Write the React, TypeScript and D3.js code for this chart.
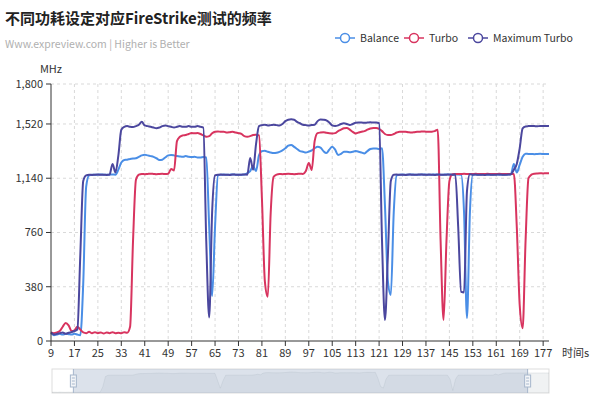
import * as d3 from "d3";
import { useEffect, useRef } from "react";

// test time in seconds, one sample per second
const times = d3.range(9, 180);
const xTickLabels = [9, 17, 25, 33, 41, 49, 57, 65, 73, 81, 89, 97, 105, 113, 121, 129, 137, 145, 153, 161, 169, 177];
const yTicks = [0, 380, 760, 1140, 1520, 1800];
const seriesNames = ["Balance", "Turbo", "Maximum Turbo"];

const balance = [
  55, 40, 45, 50, 45, 50, 48, 45, 50, 45,
  40, 400, 1080, 1160, 1165, 1164, 1165, 1166, 1165, 1164,
  1165, 1166, 1165, 1200, 1250, 1268, 1270, 1275, 1278, 1280,
  1290, 1300, 1305, 1300, 1295, 1290, 1280, 1268, 1270, 1285,
  1300, 1303, 1300, 1295, 1292, 1290, 1295, 1290, 1288, 1290,
  1286, 1285, 1288, 1285, 800, 315, 800, 1160, 1165, 1166,
  1164, 1165, 1166, 1165, 1164, 1165, 1166, 1175, 1190, 1226,
  1190, 1300, 1330, 1333, 1325, 1320, 1316, 1318, 1325, 1335,
  1350, 1368, 1373, 1360, 1345, 1330, 1326, 1320, 1326, 1335,
  1350, 1361, 1355, 1330, 1316, 1340, 1361, 1340, 1303, 1310,
  1326, 1326, 1322, 1326, 1330, 1326, 1320, 1314, 1330, 1345,
  1349, 1349, 1345, 1350, 950, 420, 322, 900, 1160, 1165,
  1166, 1164, 1165, 1166, 1165, 1164, 1165, 1166, 1165, 1164,
  1165, 1166, 1165, 1164, 1165, 1166, 1165, 1164, 1165, 1166,
  1165, 900, 161, 900, 1165, 1166, 1164, 1165, 1166, 1165,
  1164, 1165, 1166, 1165, 1164, 1165, 1166, 1168, 1240, 1180,
  1235, 1290, 1312, 1310, 1310, 1308, 1310, 1311, 1310, 1309,
  1310,
];

const turbo = [
  60, 55, 60, 70, 100, 126, 110, 70, 75, 100,
  80, 60, 55, 65, 55, 62, 55, 60, 52, 60,
  55, 62, 55, 58, 55, 62, 58, 100, 700, 1130,
  1165, 1170, 1168, 1170, 1172, 1170, 1168, 1170, 1171, 1170,
  1172, 1205, 1195, 1400, 1430, 1440, 1443, 1450, 1456, 1455,
  1456, 1450, 1440, 1431, 1435, 1455, 1466, 1468, 1465, 1466,
  1460, 1462, 1465, 1460, 1456, 1450, 1435, 1431, 1435, 1443,
  1445, 1440, 1000, 420, 310, 900, 1150, 1165, 1170, 1168,
  1170, 1171, 1170, 1168, 1170, 1172, 1170, 1190, 1246, 1198,
  1400, 1456, 1460, 1462, 1458, 1455, 1454, 1456, 1470, 1480,
  1490, 1492, 1480, 1465, 1454, 1460, 1466, 1470, 1480, 1488,
  1492, 1492, 1485, 1470, 1450, 1443, 1443, 1450, 1460, 1466,
  1466, 1465, 1462, 1460, 1462, 1465, 1466, 1468, 1466, 1465,
  1466, 1470, 1480, 700, 147, 700, 1120, 1168, 1170, 1169,
  1170, 1171, 1170, 1169, 1170, 1171, 1170, 1169, 1170, 1171,
  1170, 1169, 1170, 1171, 1170, 1169, 1170, 1170, 1170, 800,
  250, 90, 700, 1140, 1165, 1172, 1174, 1175, 1174, 1175,
  1175,
];

const maxTurbo = [
  60, 45, 50, 55, 60, 50, 58, 62, 70, 80,
  600, 1120, 1160, 1165, 1163, 1165, 1166, 1164, 1165, 1163,
  1166, 1240, 1180, 1300, 1480, 1500, 1505, 1500, 1498, 1505,
  1515, 1535, 1510, 1505, 1500, 1495, 1490, 1495, 1505, 1510,
  1505, 1500, 1495, 1500, 1505, 1500, 1500, 1505, 1500, 1500,
  1505, 1500, 1495, 700, 165, 900, 1160, 1165, 1166, 1164,
  1165, 1163, 1166, 1165, 1164, 1165, 1166, 1165, 1282, 1200,
  1380, 1505, 1512, 1515, 1510, 1512, 1515, 1512, 1510, 1520,
  1540, 1550, 1553, 1550, 1535, 1525, 1515, 1512, 1510, 1513,
  1515, 1540, 1552, 1550, 1545, 1530, 1510, 1505, 1510, 1520,
  1525, 1520, 1513, 1520, 1528, 1530, 1530, 1528, 1530, 1532,
  1530, 1530, 1525, 700, 147, 600, 1120, 1165, 1166, 1164,
  1165, 1163, 1166, 1165, 1164, 1165, 1166, 1165, 1164, 1166,
  1165, 1163, 1166, 1165, 1164, 1165, 1166, 1165, 1168, 800,
  345, 340, 1050, 1168, 1165, 1166, 1164, 1165, 1163, 1166,
  1165, 1164, 1165, 1166, 1165, 1164, 1166, 1168, 1200, 1240,
  1350, 1490, 1503, 1505, 1506, 1505, 1504, 1506, 1505, 1506,
  1505,
];

// balance samples outside the zoom window (seen only in the slider shadow)
const balanceBefore = [50, 55, 45, 60, 50, 45, 55, 50];
const balanceAfter = [1310, 1308, 1310, 1309, 1310, 1311, 1310, 1310];

export default function App() {
  const svgRef = useRef<SVGSVGElement | null>(null);

  useEffect(() => {
    if (!svgRef.current) return;
    const svg = d3.select(svgRef.current);
    svg.selectAll("*").remove();

    const font = "'Noto Sans CJK SC','Noto Sans',sans-serif";
    const colors = ["#4a8ee6", "#d8345f", "#4b479e"];
    const left = 51;
    const right = 549;
    const top = 84;
    const bottom = 341;

    svg.append("rect").attr("width", 600).attr("height", 400).attr("fill", "#ffffff");

    // title
    svg
      .append("text")
      .attr("x", 5)
      .attr("y", 24)
      .attr("font-family", font)
      .attr("font-size", 15)
      .attr("font-weight", 700)
      .attr("fill", "#222")
      .text("不同功耗设定对应FireStrike测试的频率");

    svg
      .append("text")
      .attr("x", 5)
      .attr("y", 48)
      .attr("font-family", font)
      .attr("font-size", 10.5)
      .attr("fill", "#b0b0b0")
      .text("Www.expreview.com | Higher is Better");

    // legend
    const legendX = [335, 404, 468];
    const legend = svg.append("g");
    seriesNames.forEach((name, i) => {
      const lx = legendX[i];
      const g = legend.append("g");
      g.append("line")
        .attr("x1", lx)
        .attr("x2", lx + 20)
        .attr("y1", 38)
        .attr("y2", 38)
        .attr("stroke", colors[i])
        .attr("stroke-width", 1.5);
      g.append("circle")
        .attr("cx", lx + 10)
        .attr("cy", 38)
        .attr("r", 4.5)
        .attr("fill", "#fff")
        .attr("stroke", colors[i])
        .attr("stroke-width", 1.5);
      g.append("text")
        .attr("x", lx + 25)
        .attr("y", 38)
        .attr("dy", "0.35em")
        .attr("font-family", font)
        .attr("font-size", 10.5)
        .attr("fill", "#333")
        .text(name);
    });

    const x = d3.scalePoint<number>().domain(times).range([left, right]);
    const y = d3.scaleLinear().domain([0, 1800]).range([bottom, top]);

    // grid
    const grid = svg.append("g");
    grid
      .selectAll(".hgrid")
      .data(yTicks.filter((v) => v > 0))
      .join("line")
      .attr("x1", left)
      .attr("x2", right)
      .attr("y1", (v) => y(v))
      .attr("y2", (v) => y(v))
      .attr("stroke", "#d9d9d9")
      .attr("stroke-dasharray", "3,3");

    grid
      .selectAll(".vgrid")
      .data(xTickLabels.filter((t) => t > times[0]))
      .join("line")
      .attr("x1", (t) => x(t) ?? 0)
      .attr("x2", (t) => x(t) ?? 0)
      .attr("y1", top)
      .attr("y2", bottom)
      .attr("stroke", "#d9d9d9")
      .attr("stroke-dasharray", "3,3");

    // series
    const line = d3
      .line<number>()
      .x((_, i) => x(times[i]) ?? 0)
      .y((v) => y(v))
      .curve(d3.curveMonotoneX);

    [balance, turbo, maxTurbo].forEach((values, i) => {
      svg
        .append("path")
        .datum(values)
        .attr("d", line)
        .attr("fill", "none")
        .attr("stroke", colors[i])
        .attr("stroke-width", 2)
        .attr("stroke-linejoin", "round");
    });

    // axes
    const axes = svg.append("g").attr("font-family", font).attr("font-size", 11).attr("fill", "#333");
    axes
      .append("line")
      .attr("x1", left)
      .attr("x2", left)
      .attr("y1", top)
      .attr("y2", bottom)
      .attr("stroke", "#333");
    axes
      .append("line")
      .attr("x1", left)
      .attr("x2", right)
      .attr("y1", bottom)
      .attr("y2", bottom)
      .attr("stroke", "#333");

    axes
      .selectAll(".ytick")
      .data(yTicks)
      .join("line")
      .attr("x1", left - 5)
      .attr("x2", left)
      .attr("y1", (v) => y(v))
      .attr("y2", (v) => y(v))
      .attr("stroke", "#333");
    axes
      .selectAll(".ylabel")
      .data(yTicks)
      .join("text")
      .attr("x", left - 8)
      .attr("y", (v) => y(v))
      .attr("dy", "0.35em")
      .attr("text-anchor", "end")
      .text((v) => d3.format(",")(v));

    axes
      .selectAll(".xtick")
      .data(xTickLabels)
      .join("line")
      .attr("x1", (t) => x(t) ?? 0)
      .attr("x2", (t) => x(t) ?? 0)
      .attr("y1", bottom)
      .attr("y2", bottom + 5)
      .attr("stroke", "#333");
    axes
      .selectAll(".xlabel")
      .data(xTickLabels)
      .join("text")
      .attr("x", (t) => x(t) ?? 0)
      .attr("y", bottom + 12)
      .attr("dy", "0.35em")
      .attr("text-anchor", "middle")
      .text((t) => t);

    axes
      .append("text")
      .attr("x", left)
      .attr("y", 69)
      .attr("dy", "0.35em")
      .attr("text-anchor", "middle")
      .text("MHz");
    axes
      .append("text")
      .attr("x", 562)
      .attr("y", bottom + 12)
      .attr("dy", "0.35em")
      .text("时间s");

    // data zoom slider
    const sTop = 369;
    const sBottom = 393;
    const full = [...balanceBefore, ...balance, ...balanceAfter];
    const fullStart = times[0] - balanceBefore.length;
    const xs = d3
      .scaleLinear()
      .domain([fullStart, fullStart + full.length - 1])
      .range([52, right]);
    const ys = d3.scaleLinear().domain([0, d3.max(full) ?? 1]).range([sBottom, sTop + 3]);

    const slider = svg.append("g");
    slider
      .append("rect")
      .attr("x", 52)
      .attr("y", sTop)
      .attr("width", right - 52)
      .attr("height", sBottom - sTop)
      .attr("fill", "#fff")
      .attr("stroke", "#ddd");

    const shadowArea = d3
      .area<number>()
      .x((_, i) => xs(fullStart + i))
      .y0(sBottom)
      .y1((v) => ys(v));
    slider
      .append("path")
      .datum(full)
      .attr("d", shadowArea)
      .attr("fill", "rgba(47,69,84,0.07)");
    slider
      .append("path")
      .datum(full)
      .attr("d", d3.line<number>().x((_, i) => xs(fullStart + i)).y((v) => ys(v)))
      .attr("fill", "none")
      .attr("stroke", "rgba(47,69,84,0.2)")
      .attr("stroke-width", 0.5);

    const winStart = xs(times[0]);
    const winEnd = xs(times[times.length - 1]);
    slider
      .append("rect")
      .attr("x", winStart)
      .attr("y", sTop)
      .attr("width", winEnd - winStart)
      .attr("height", sBottom - sTop)
      .attr("fill", "rgba(167,183,204,0.4)");

    [winStart, winEnd].forEach((hx) => {
      const h = slider.append("g");
      h.append("line")
        .attr("x1", hx)
        .attr("x2", hx)
        .attr("y1", sTop)
        .attr("y2", sBottom)
        .attr("stroke", "#a7b7cc");
      h.append("rect")
        .attr("x", hx - 3)
        .attr("y", (sTop + sBottom) / 2 - 6)
        .attr("width", 6)
        .attr("height", 12)
        .attr("fill", "#f3f5f8")
        .attr("stroke", "#a7b7cc");
      [-3, 0, 3].forEach((dy) => {
        h.append("line")
          .attr("x1", hx - 1.5)
          .attr("x2", hx + 1.5)
          .attr("y1", (sTop + sBottom) / 2 + dy)
          .attr("y2", (sTop + sBottom) / 2 + dy)
          .attr("stroke", "#a7b7cc");
      });
    });
  }, []);

  return (
    <div style={{ position: "absolute", left: 0, top: 0 }}>
      <svg ref={svgRef} width={600} height={400} style={{ display: "block" }} />
    </div>
  );
}
